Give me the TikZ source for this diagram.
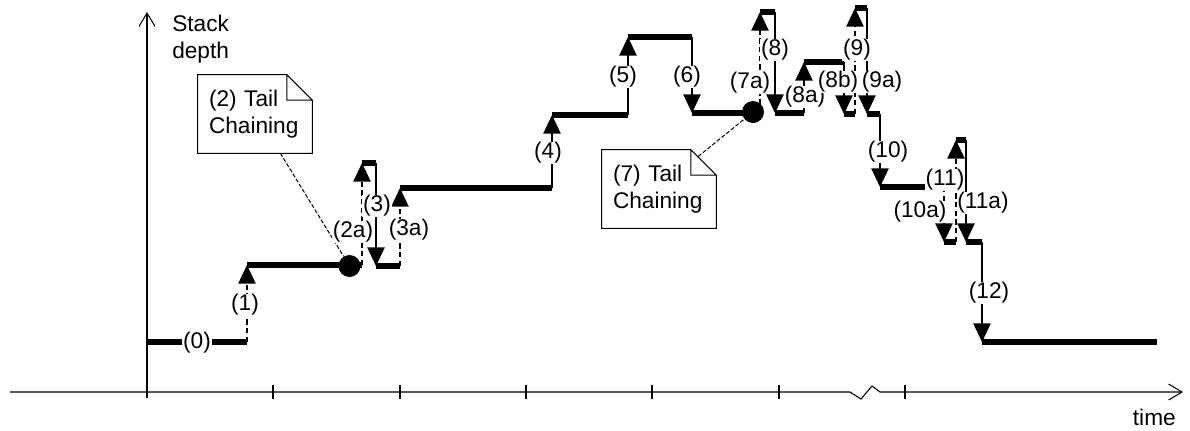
\documentclass[tikz,border=0pt]{standalone}
\usepackage{fontspec}
\setmainfont{Liberation Sans}
\usetikzlibrary{arrows.meta}

\tikzset{
  stackline/.style={line width=3.9pt},
  stackarrow/.style={line width=1.1pt,-{Triangle[width=13pt,length=14pt]}},
  latearrow/.style={stackarrow,dash pattern=on 4pt off 2.5pt},
  axisarrow/.style={line width=0.8pt,-{Straight Barb[length=10pt,width=12pt]}},
  lbl/.style={fill=white,inner sep=0.6pt},
  dot/.style={circle,fill=black,inner sep=0pt,minimum size=16.5pt},
  notebox/.style={minimum width=85.5pt,minimum height=58.5pt,text width=69pt,align=left,inner xsep=8.25pt},
  leader/.style={line width=0.75pt,dash pattern=on 3pt off 1.5pt}
}

\begin{document}
\begin{tikzpicture}[x=0.75pt,y=-0.75pt,font=\fontsize{17}{20}\selectfont]
  \useasboundingbox (0,0) rectangle (1190,430);

  \draw[axisarrow] (10,392) -- (850,392) -- (861,399) -- (872,386) -- (880,392) -- (1183,392); % time axis
  \draw[axisarrow] (147,398) -- (147,12); % depth axis
  \foreach \x in {273,400,526,652,779,905}
  \draw[line width=0.8pt,shift={(\x,392)}] (0pt,5pt) -- (0pt,-5pt);

  \node[anchor=north west,align=left,inner sep=0pt] (depth) at (172,15) {Stack\\depth};
  \node[anchor=east,inner sep=0pt] (time) at (1176,417) {time};

  % corners of the stack depth curve
  \foreach \n/\x/\y in {0/147/342, 1/247/342, 2/247/265, 3/362/265, 4/362/163, 5/376/163,
    6/376/266, 7/400/266, 8/400/188, 9/552/188, 10/552/115, 11/628/115, 12/628/37,
    13/692/37, 14/692/113, 15/760/113, 16/760/12, 17/775/12, 18/775/113, 19/804/113,
    20/804/62, 21/844/62, 22/844/114, 23/855/114, 24/855/8, 25/867/8, 26/867/114,
    27/880/114, 28/880/187, 29/944/187, 30/944/242, 31/956/242, 32/956/140, 33/966/140,
    34/966/242, 35/982/242, 36/982/342, 37/1157/342}
  \coordinate (q\n) at (\x,\y);

  \foreach \a/\b/\s in {1/2/latearrow, 3/4/latearrow, 5/6/stackarrow, 7/8/latearrow,
    9/10/stackarrow, 11/12/stackarrow, 13/14/stackarrow, 15/16/latearrow, 17/18/stackarrow,
    19/20/stackarrow, 21/22/stackarrow, 23/24/latearrow, 25/26/stackarrow, 27/28/stackarrow,
    29/30/latearrow, 31/32/latearrow, 33/34/stackarrow, 35/36/stackarrow}
  \draw[\s] (q\a) -- (q\b);

  \foreach \a/\b in {0/1,2/3,4/5,6/7,8/9,10/11,12/13,14/15,16/17,18/19,20/21,22/23,
    24/25,26/27,28/29,30/31,32/33,34/35,36/37}
  \draw[stackline] (q\a) -- (q\b);

  \node[dot] (tc2) at (349.5,266) {};
  \node[dot] (tc7) at (753,112) {};

  \node[notebox] (note2) at (255,114) {(2) Tail\\Chaining};
  \node[notebox] (note7) at (659,189) {(7) Tail\\Chaining};
  \foreach \n in {note2,note7}
  \draw[line width=0.75pt] (\n.north west) -- ([xshift=-19pt]\n.north east)
    -- ([yshift=-19pt]\n.north east) -- (\n.south east) -- (\n.south west) -- cycle
    ([xshift=-19pt]\n.north east) |- ([yshift=-19pt]\n.north east);

  \draw[leader] ([xshift=19pt]note2.south) -- (tc2);
  \draw[leader] ([xshift=-13.5pt,yshift=-5pt]note7.north east) -- (tc7);

  \foreach \t/\x/\y in {0/197/343, 1/245/305, 2a/353/232, 3/377/206, 3a/409/230,
    4/548/153, 5/623/77, 6/687/77, 7a/750/83, 8/775/50, 8a/805/97, 8b/838/82,
    9/857/50, 9a/882/82, 10/888/152, 10a/920/212, 11/945/180, 11a/983/203, 12/989/293}
  \node[lbl] (l\t) at (\x,\y) {(\t)};
\end{tikzpicture}
\end{document}
